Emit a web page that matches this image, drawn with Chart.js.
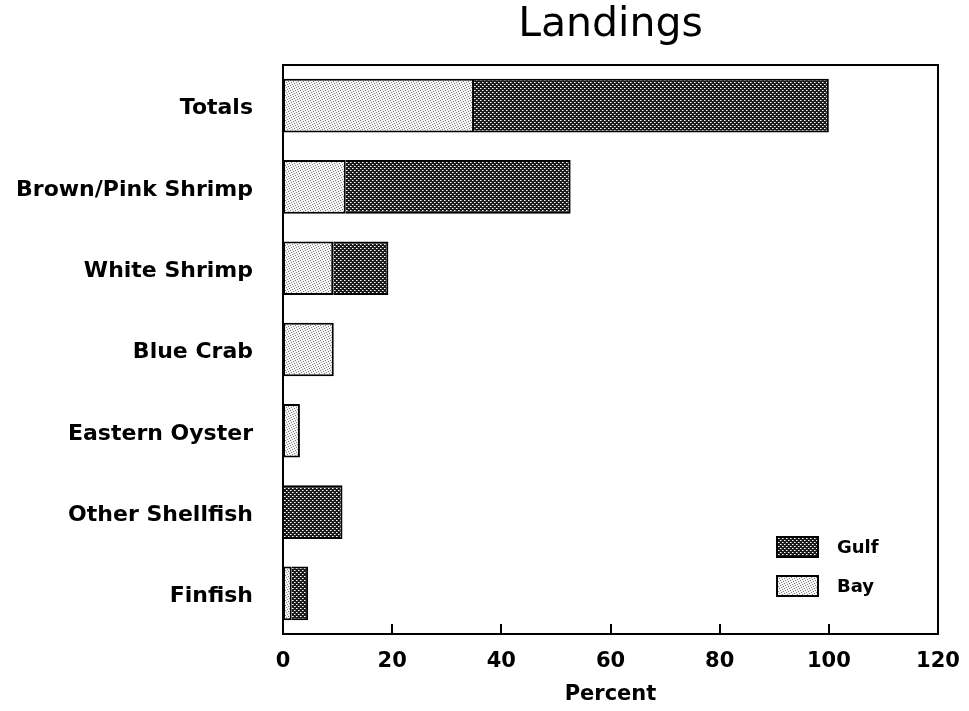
<!DOCTYPE html>
<html>
<head>
<meta charset="utf-8">
<script src="https://cdn.jsdelivr.net/npm/chart.js@4/dist/chart.umd.min.js"></script>
<style>
  html, body { margin: 0; padding: 0; background: #ffffff; }
  #c { display: block; }
</style>
</head>
<body>
<canvas id="c" width="969" height="711"></canvas>
<script>
const chartTitle = 'Landings';
const axisTitle = 'Percent';
const categories = ['Totals', 'Brown/Pink Shrimp', 'White Shrimp', 'Blue Crab', 'Eastern Oyster', 'Other Shellfish', 'Finfish'];
const bayValues = [35, 11.5, 9.2, 9.3, 3.1, 0, 1.6];
const gulfValues = [65, 41.2, 10.1, 0, 0, 10.9, 3.0];
const xTickValues = [0, 20, 40, 60, 80, 100, 120];
const seriesNames = ['Bay', 'Gulf'];

function makePattern(size, bg, dots) {
  const p = document.createElement('canvas');
  p.width = size; p.height = size;
  const g = p.getContext('2d');
  g.fillStyle = bg; g.fillRect(0, 0, size, size);
  dots.forEach(d => { g.fillStyle = d[2]; g.fillRect(d[0], d[1], 1, 1); });
  return g.createPattern(p, 'repeat');
}
const ctx = document.getElementById('c').getContext('2d');
const gulfPattern = makePattern(4, '#1a1a1a', [[0, 0, '#ffffff'], [2, 2, '#ffffff'], [1, 0, '#9a9a9a'], [3, 2, '#9a9a9a']]);
const bayPattern = makePattern(5, '#f4f4f4', [[0, 0, '#7a7a7a'], [3, 1, '#7a7a7a'], [1, 2, '#8a8a8a'], [4, 3, '#7a7a7a'], [2, 4, '#8a8a8a']]);

const FONT = 'DejaVu Sans';

const frame = {
  id: 'frame',
  afterDatasetsDraw(chart) {
    const a = chart.chartArea;
    const c = chart.ctx;
    const xs = chart.scales.x;
    c.save();
    c.strokeStyle = '#000';
    c.lineWidth = 2;
    c.strokeRect(a.left, a.top, a.right - a.left, a.bottom - a.top);
    c.beginPath();
    xTickValues.forEach(v => {
      const px = Math.round(xs.getPixelForValue(v));
      c.moveTo(px, a.bottom);
      c.lineTo(px, a.bottom - 10);
    });
    c.stroke();
    c.restore();
  }
};

const boxLegend = {
  id: 'boxLegend',
  afterDraw(chart) {
    const a = chart.chartArea;
    const c = chart.ctx;
    const sets = chart.data.datasets.slice().reverse();
    c.save();
    c.font = 'bold 18px "' + FONT + '"';
    c.textBaseline = 'middle';
    c.textAlign = 'left';
    sets.forEach((ds, i) => {
      const bx = a.right - 161;
      const by = a.bottom - 97 + i * 39;
      c.fillStyle = ds.backgroundColor;
      c.fillRect(bx, by, 41, 20);
      c.strokeStyle = '#000';
      c.lineWidth = 2;
      c.strokeRect(bx, by, 41, 20);
      c.fillStyle = '#000';
      c.fillText(ds.label, bx + 60, by + 11);
    });
    c.restore();
  }
};

new Chart(ctx, {
  type: 'bar',
  data: {
    labels: categories,
    datasets: [
      {
        label: seriesNames[0],
        data: bayValues,
        backgroundColor: bayPattern,
        borderColor: '#000',
        borderWidth: 2,
        borderSkipped: false,
        barPercentage: 0.66,
        categoryPercentage: 1.0
      },
      {
        label: seriesNames[1],
        data: gulfValues,
        backgroundColor: gulfPattern,
        borderColor: '#000',
        borderWidth: 2,
        borderSkipped: 'start',
        barPercentage: 0.66,
        categoryPercentage: 1.0
      }
    ]
  },
  options: {
    indexAxis: 'y',
    responsive: false,
    animation: false,
    devicePixelRatio: 1,
    layout: { padding: { left: 0, right: 31, top: 0, bottom: 0 } },
    plugins: {
      legend: { display: false },
      tooltip: { enabled: false },
      title: {
        display: true,
        fullSize: false,
        text: chartTitle,
        color: '#000',
        font: { family: FONT, size: 41, weight: 'normal', lineHeight: 1 },
        padding: { top: 5, bottom: 19 }
      }
    },
    scales: {
      x: {
        stacked: true,
        min: 0,
        max: 120,
        afterBuildTicks(scale) { scale.ticks = xTickValues.map(v => ({ value: v })); },
        afterFit(scale) { scale.height = 77; },
        grid: { display: false, drawTicks: true, tickLength: 15 },
        border: { display: false },
        ticks: {
          color: '#000',
          padding: 0,
          font: { family: FONT, size: 21, weight: 'bold' }
        },
        title: {
          display: true,
          text: axisTitle,
          color: '#000',
          font: { family: FONT, size: 21, weight: 'bold', lineHeight: 1.2 },
          padding: { top: 0, bottom: 4 }
        }
      },
      y: {
        stacked: true,
        afterFit(scale) { scale.width = 283; },
        grid: { display: false, drawTicks: true, tickLength: 30 },
        border: { display: false },
        ticks: {
          color: '#000',
          padding: 0,
          labelOffset: 3,
          font: { family: FONT, size: 22, weight: 'bold' }
        }
      }
    }
  },
  plugins: [frame, boxLegend]
});
</script>
</body>
</html>
